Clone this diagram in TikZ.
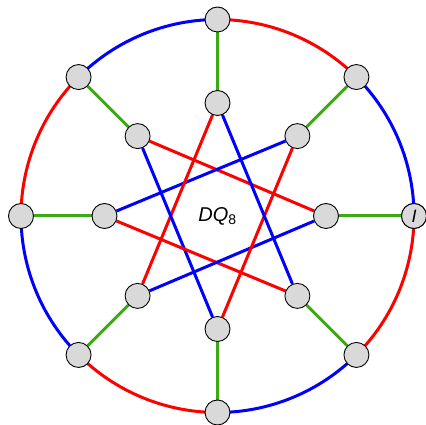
\documentclass[tikz,border=0pt]{standalone}
\usepackage{fontspec}
\setmainfont{Liberation Sans}
\pgfdeclarelayer{bg}
\pgfsetlayers{bg,main}
\definecolor{nodegray}{RGB}{217,217,217}
\definecolor{edgered}{RGB}{255,0,0}
\definecolor{edgeblue}{RGB}{0,0,255}
\definecolor{edgegreen}{RGB}{60,170,20}
\begin{document}
\begin{tikzpicture}[x=1pt,y=1pt,
  vert/.style={circle,draw=black,line width=0.9pt,fill=nodegray,minimum size=25pt,inner sep=0pt,font=\fontsize{18}{21}\selectfont\itshape},
  redE/.style={draw=edgered,line width=3pt},
  blueE/.style={draw=edgeblue,line width=3pt},
  greenE/.style={draw=edgegreen,line width=3pt},
  rim/.style={bend right=22.5,looseness=0.885},
  lbl/.style={font=\fontsize{20}{24}\selectfont}]
\useasboundingbox (0,0) rectangle (426,425);
\begin{scope}[shift={(217.5,209)}]
  \foreach \k in {0,...,7} {
    \node[vert] (o\k) at (\k*45:196.5) {};
  }
  \foreach \k in {1,...,7} {
    \node[vert] (i\k) at (\k*45:113) {};
  }
  \node[vert] (i0) at (0:108.5) {};
  \node[vert] at (o0) {I};
  \node[lbl] (title) at (0,0) {\textit{DQ}\textsubscript{8}};
  \begin{pgfonlayer}{bg}
    \foreach \k in {0,...,7} {
      \pgfmathtruncatemacro\nx{mod(\k+1,8)}
      \pgfmathtruncatemacro\mx{mod(\k+3,8)}
      \draw[greenE] (o\k) -- (i\k);
      \ifodd\k
        \draw[redE] (o\k.center) to[rim] (o\nx.center);
        \draw[blueE] (i\k) -- (i\mx);
      \else
        \draw[blueE] (o\k.center) to[rim] (o\nx.center);
        \draw[redE] (i\k) -- (i\mx);
      \fi
    }
  \end{pgfonlayer}
\end{scope}
\end{tikzpicture}
\end{document}
